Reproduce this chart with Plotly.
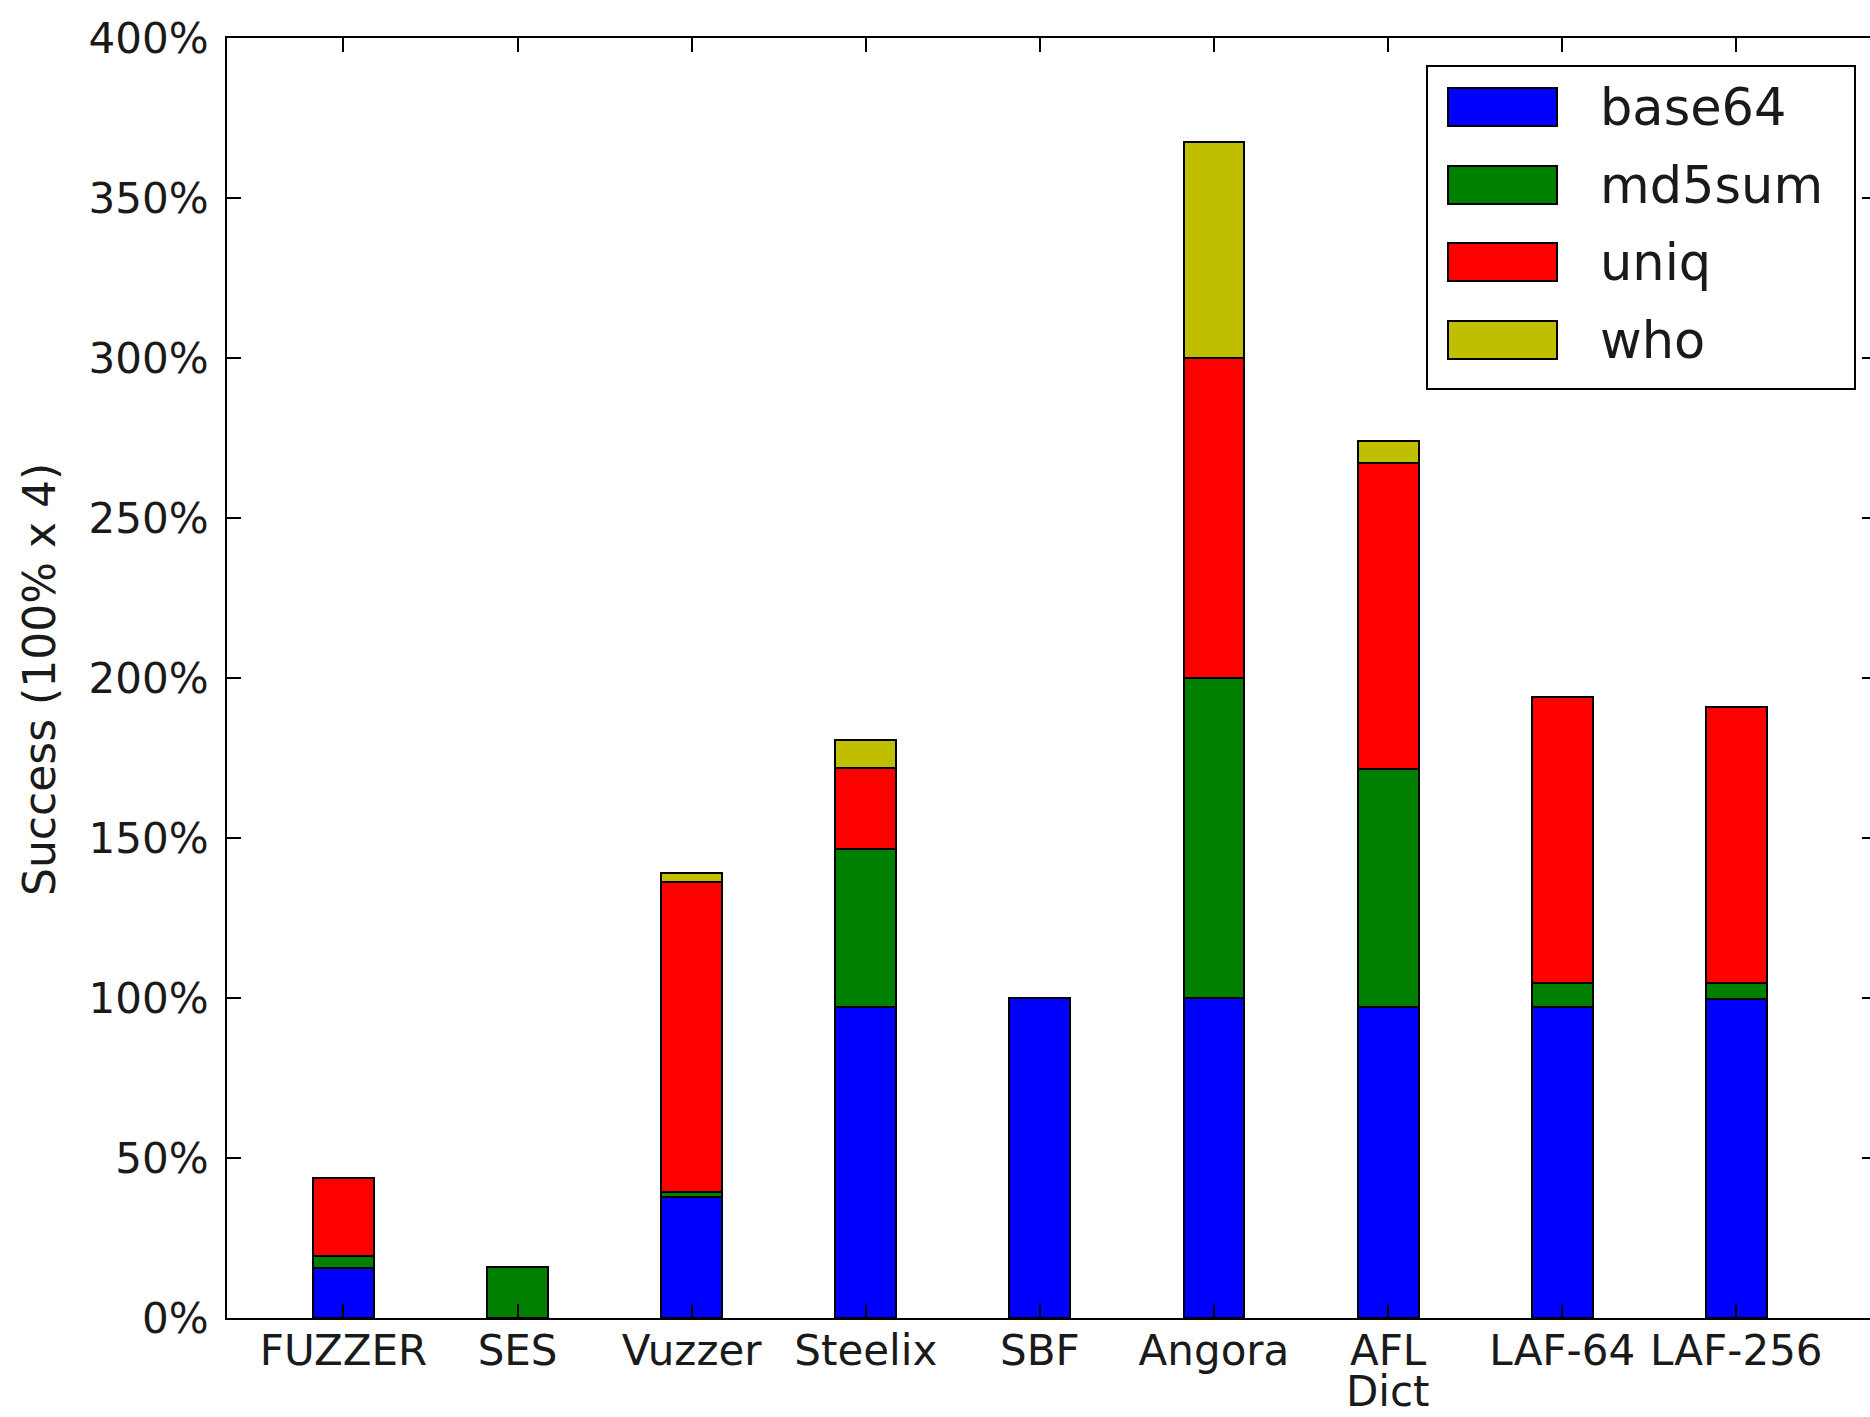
import plotly.graph_objects as go

categories = ["FUZZER", "SES", "Vuzzer", "Steelix", "SBF", "Angora", "AFL Dict", "LAF-64", "LAF-256"]
series_names = ["base64", "md5sum", "uniq", "who"]
base64 = [15.6, 0, 37.8, 97.3, 100, 100, 97.3, 97.3, 99.6]
md5sum = [3.8, 16.0, 1.6, 49.3, 0, 100, 74.2, 7.5, 5.0]
uniq = [24.5, 0, 96.9, 25.3, 0, 100, 95.8, 89.4, 86.3]
who = [0, 0, 2.8, 8.7, 0, 67.5, 6.7, 0, 0]
colors = ["#0000ff", "#008000", "#ff0000", "#bfbf00"]
y_ticks = [0, 50, 100, 150, 200, 250, 300, 350, 400]
y_ticktext = [f"{v}%" for v in y_ticks]

W, H = 1870, 1417
L, R, T, B = 227, 0, 38, 99
pw, ph = W - L - R, H - T - B
FONT = "DejaVu Sans"
TXT = "#1a1a1a"

positions = list(range(len(categories)))
first_lines = [c.split(" ")[0] for c in categories]

fig = go.Figure()
for name, vals, col in zip(series_names, [base64, md5sum, uniq, who], colors):
    fig.add_trace(go.Bar(
        x=positions, y=vals, name=name, width=0.35,
        marker=dict(color=col, line=dict(color="black", width=2)),
        showlegend=False,
    ))
# invisible trace to carry the right-side tick marks
fig.add_trace(go.Scatter(x=[0], y=[0], yaxis="y2", mode="markers",
                         marker=dict(opacity=0), showlegend=False, hoverinfo="skip"))

fig.update_layout(
    barmode="stack",
    width=W, height=H,
    margin=dict(l=L, r=R, t=T, b=B, autoexpand=False),
    plot_bgcolor="white", paper_bgcolor="white",
    font=dict(family=FONT, size=42, color=TXT),
    xaxis=dict(
        range=[-0.669, 8.768], tickmode="array", tickvals=positions, ticktext=first_lines,
        ticks="inside", ticklen=14, tickwidth=1.5, tickcolor="black",
        showline=True, linecolor="black", linewidth=2, mirror="ticks",
        showgrid=False, zeroline=False, ticklabelstandoff=-5, automargin=False,
        tickfont=dict(family=FONT, size=42, color=TXT),
    ),
    yaxis=dict(
        range=[0, 400], tickmode="array", tickvals=y_ticks, ticktext=y_ticktext,
        ticks="inside", ticklen=14, tickwidth=1.5, tickcolor="black",
        showline=True, linecolor="black", linewidth=2, mirror=False,
        showgrid=False, zeroline=False, ticklabelstandoff=8, automargin=False,
        tickfont=dict(family=FONT, size=42, color=TXT),
    ),
    yaxis2=dict(
        range=[0, 400], overlaying="y", side="right", tickmode="array", tickvals=y_ticks,
        ticks="inside", ticklen=8, tickwidth=1.5, tickcolor="black", automargin=False,
        showticklabels=False, showline=False, showgrid=False, zeroline=False,
    ),
)

# second lines of two-line category labels
for pos, c in zip(positions, categories):
    parts = c.split(" ")
    if len(parts) > 1:
        fig.add_annotation(
            text=" ".join(parts[1:]), xref="x", yref="paper", x=pos,
            y=(H - B - 1418) / ph, xanchor="center", yanchor="bottom",
            showarrow=False, font=dict(family=FONT, size=42, color=TXT),
        )

# y-axis title
fig.add_annotation(
    text="Success (100% x 4)", textangle=-90, xref="paper", yref="paper",
    x=(39 - L) / pw, y=(H - B - 680) / ph, xanchor="center", yanchor="middle",
    showarrow=False, font=dict(family=FONT, size=44, color=TXT),
)

# legend (box, patches, labels)
def px2paper(xp, yp):
    return (xp - L) / pw, (H - B - yp) / ph

x0, y0 = px2paper(1427, 66)
x1, y1 = px2paper(1855, 389)
fig.add_shape(type="rect", xref="paper", yref="paper", x0=x0, y0=y1, x1=x1, y1=y0,
              line=dict(color="black", width=2), fillcolor="white", layer="above")
patch_tops = [88, 166, 243, 321]
for name, col, pt in zip(series_names, colors, patch_tops):
    ax0, ay0 = px2paper(1448, pt)
    ax1, ay1 = px2paper(1557, pt + 38)
    fig.add_shape(type="rect", xref="paper", yref="paper", x0=ax0, y0=ay1, x1=ax1, y1=ay0,
                  line=dict(color="black", width=2), fillcolor=col, layer="above")
    tx, ty = px2paper(1598, pt + 19)
    fig.add_annotation(text=name, xref="paper", yref="paper", x=tx, y=ty,
                       xanchor="left", yanchor="middle", showarrow=False,
                       font=dict(family=FONT, size=51, color=TXT))

fig.write_html(
    "out.html",
    config={"displayModeBar": False},
    post_script="document.body.style.margin='0';document.body.style.overflow='hidden';",
)
